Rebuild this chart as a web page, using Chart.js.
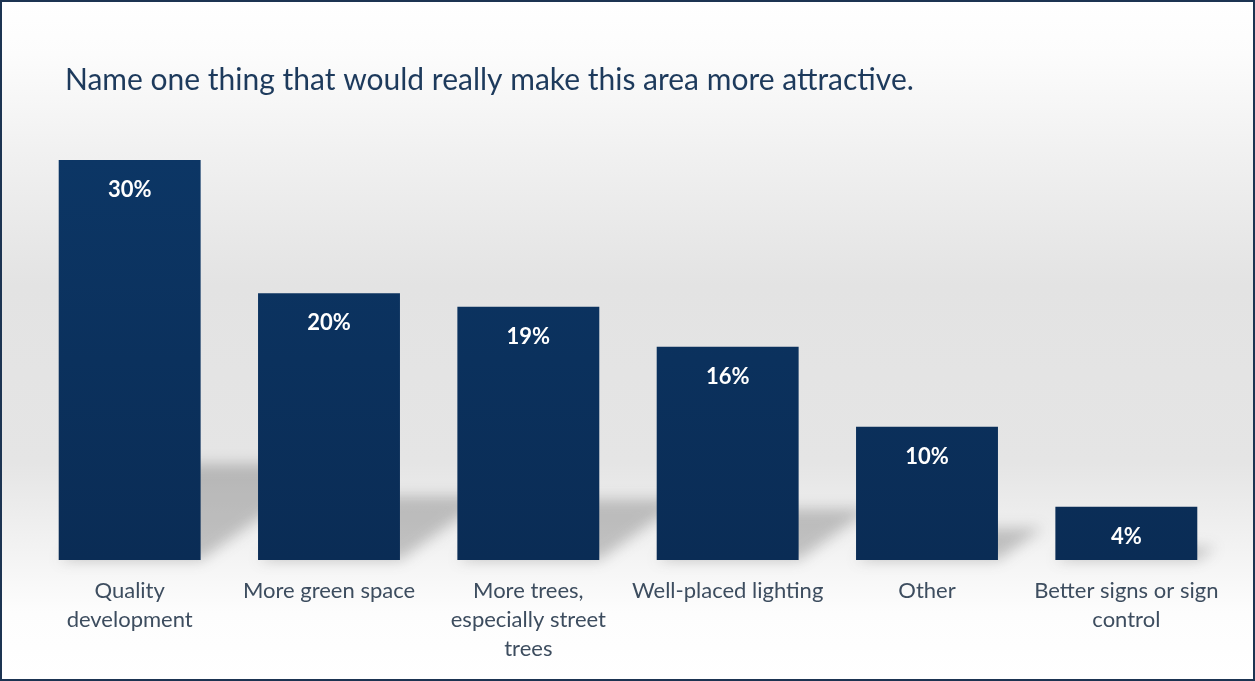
<!DOCTYPE html>
<html>
<head>
<meta charset="utf-8">
<script src="https://cdn.jsdelivr.net/npm/chart.js@4"></script>
<style>
  html, body { margin: 0; padding: 0; background: #fff; }
  #wrap { width: 1255px; height: 681px; position: relative; }
</style>
</head>
<body>
<div id="wrap"><canvas id="myChart" width="1255" height="681"></canvas></div>
<script>
// chart data
const titleText = 'Name one thing that would really make this area more attractive.';
const categories = [
  ['Quality', 'development'],
  ['More green space'],
  ['More trees,', 'especially street', 'trees'],
  ['Well-placed lighting'],
  ['Other'],
  ['Better signs or sign', 'control']
];
const percents = [30, 20, 19, 16, 10, 4];
const valueLabels = ['30%', '20%', '19%', '16%', '10%', '4%'];

const FONT = 'Lato, "Open Sans", sans-serif';

// grey sheen behind the bars + dark frame
const backdrop = {
  id: 'backdrop',
  beforeDraw(chart) {
    const { ctx, width, height } = chart;
    let g = ctx.createLinearGradient(0, 0, 0, height);
    g.addColorStop(0, '#ffffff');
    g.addColorStop(0.08, '#fcfcfc');
    g.addColorStop(0.22, '#f1f1f1');
    g.addColorStop(0.42, '#e3e3e3');
    g.addColorStop(0.68, '#e5e5e5');
    g.addColorStop(0.82, '#f4f4f4');
    g.addColorStop(0.9, '#fdfdfd');
    g.addColorStop(1, '#ffffff');
    ctx.save();
    ctx.fillStyle = g;
    ctx.fillRect(0, 0, width, height);
    ctx.restore();
  },
  afterDraw(chart) {
    const { ctx, width, height } = chart;
    ctx.save();
    ctx.fillStyle = '#1d3a5c';
    ctx.font = '30px ' + FONT;
    ctx.textBaseline = 'alphabetic';
    ctx.fillText(titleText, 65, 90);
    ctx.strokeStyle = '#1c3452';
    ctx.lineWidth = 2;
    ctx.strokeRect(1, 1, width - 2, height - 2);
    ctx.restore();
  }
};

// soft floor shadow cast up and to the right of every bar
const floorShadow = {
  id: 'floorShadow',
  beforeDatasetsDraw(chart) {
    const { ctx } = chart;
    const bars = chart.getDatasetMeta(0).data;
    ctx.save();
    ctx.filter = 'blur(7px)';
    ctx.fillStyle = 'rgba(60,60,60,0.28)';
    bars.forEach(b => {
      const h = b.base - b.y;
      const sh = h * 0.24;
      const dx = sh * 1.4;
      const l = b.x - b.width / 2, r = b.x + b.width / 2;
      ctx.beginPath();
      ctx.moveTo(l, b.base);
      ctx.lineTo(r, b.base);
      ctx.lineTo(r + dx, b.base - sh);
      ctx.lineTo(l + dx, b.base - sh);
      ctx.closePath();
      ctx.fill();
    });
    ctx.restore();
  }
};

// white percent labels near the top of each bar
const barValues = {
  id: 'barValues',
  afterDatasetsDraw(chart) {
    const { ctx } = chart;
    const bars = chart.getDatasetMeta(0).data;
    ctx.save();
    ctx.fillStyle = '#ffffff';
    ctx.font = 'bold 22px ' + FONT;
    ctx.textAlign = 'center';
    ctx.textBaseline = 'middle';
    bars.forEach((b, i) => {
      ctx.fillText(valueLabels[i], b.x, b.y + 30);
    });
    ctx.restore();
  }
};

const ctx = document.getElementById('myChart').getContext('2d');
new Chart(ctx, {
  type: 'bar',
  data: {
    labels: categories,
    datasets: [{
      data: percents,
      backgroundColor: (c) => {
        const area = c.chart.chartArea;
        if (!area) return '#0b3160';
        const g = c.chart.ctx.createLinearGradient(0, area.top, 0, area.bottom);
        g.addColorStop(0, '#0c3665');
        g.addColorStop(1, '#0a2c55');
        return g;
      },
      borderWidth: 0,
      barPercentage: 0.712,
      categoryPercentage: 1
    }]
  },
  options: {
    responsive: false,
    animation: false,
    layout: { padding: { top: 160, left: 30, right: 29, bottom: 0 } },
    plugins: {
      legend: { display: false },
      tooltip: { enabled: false },
      title: { display: false }
    },
    scales: {
      x: {
        grid: { display: false, drawTicks: false },
        border: { display: false },
        afterFit: (scale) => { scale.height = 121; },
        ticks: {
          color: '#3d4d5f',
          padding: 16,
          maxRotation: 0,
          autoSkip: false,
          font: { family: FONT, size: 22, lineHeight: 1.32 }
        }
      },
      y: {
        display: false,
        min: 0,
        max: 30
      }
    }
  },
  plugins: [backdrop, floorShadow, barValues]
});
</script>
</body>
</html>
